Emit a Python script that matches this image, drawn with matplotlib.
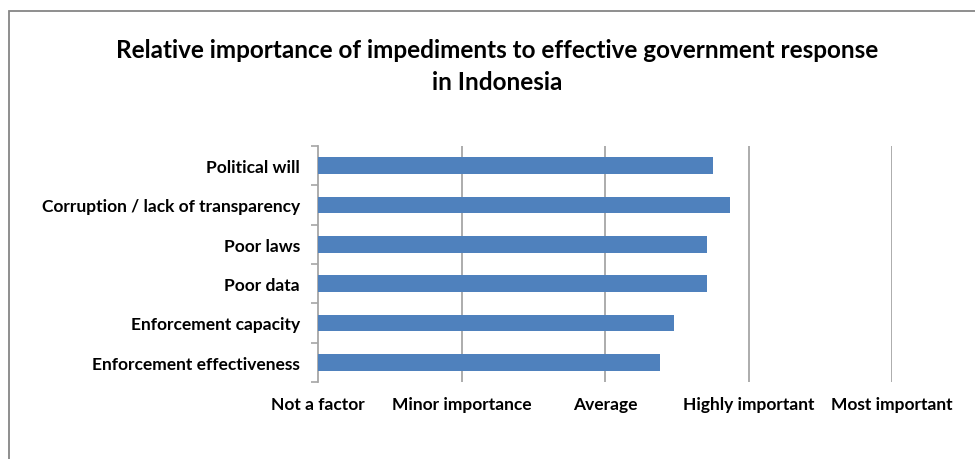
import matplotlib.pyplot as plt
import matplotlib.patches as patches
import numpy as np

# impediment ratings (0 = not a factor ... 4 = most important)
impediments = ["Political will", "Corruption / lack of transparency", "Poor laws",
               "Poor data", "Enforcement capacity", "Enforcement effectiveness"]
scores = [2.75, 2.87, 2.71, 2.71, 2.48, 2.38]
scale_labels = ["Not a factor", "Minor importance", "Average",
                "Highly important", "Most important"]

plt.rcParams['font.family'] = ['Lato', 'DejaVu Sans']

fig = plt.figure(figsize=(9.75, 4.6), dpi=100)
W, H = 975, 460
ax = fig.add_axes([318 / W, 1 - 383 / H, (892 - 318) / W, (383 - 147) / H])

y = np.arange(len(impediments))
ax.barh(y, scores, height=0.42, color="#4f81bd", zorder=3)

ax.set_xlim(0, 4)
ax.set_ylim(len(impediments) - 0.5, -0.5)

# vertical gridlines at each rating step
for v in range(1, 5):
    ax.axvline(v, color="#a6a6a6", lw=1.3, zorder=1)

for s in ["top", "right", "bottom"]:
    ax.spines[s].set_visible(False)
ax.spines["left"].set_color("#a6a6a6")
ax.spines["left"].set_linewidth(1.3)

ax.set_yticks(y)
ax.set_yticklabels(impediments, fontsize=12.5, fontweight="bold")
ax.set_yticks(np.arange(-0.5, len(impediments)), minor=True)
ax.tick_params(axis="y", which="major", length=0, pad=13)
ax.tick_params(axis="y", which="minor", length=5, color="#a6a6a6", width=1.2)

ax.set_xticks(range(5))
ax.set_xticklabels(scale_labels, fontsize=12.5, fontweight="bold")
ax.tick_params(axis="x", length=0, pad=10)

fig.text(497 / W, 1 - 50 / H, "Relative importance of impediments to effective government response",
         ha="center", va="center", fontsize=17.5, fontweight="bold")
fig.text(497 / W, 1 - 82 / H, "in Indonesia",
         ha="center", va="center", fontsize=17.5, fontweight="bold")

# chart frame
fig.patches.append(patches.Rectangle((9 / W, -0.1), 1.2, 1 - 12 / H + 0.1,
                                     transform=fig.transFigure, fill=False,
                                     edgecolor="#868686", lw=1.3))

fig.savefig("out.png", dpi=100)
